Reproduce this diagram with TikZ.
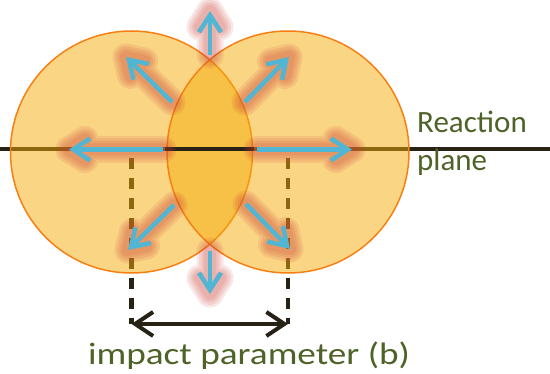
\documentclass[tikz,border=0pt]{standalone}
\usepackage{fontspec}
\setmainfont{Carlito}
\newfontfamily\widefont[FakeStretch=1.2]{Carlito}
\usetikzlibrary{arrows.meta,calc}
\definecolor{nucfill}{RGB}{245,172,10}
\definecolor{nucline}{RGB}{247,128,20}
\definecolor{flowblue}{RGB}{80,182,212}
\definecolor{glowred}{RGB}{200,60,50}
\definecolor{olivetext}{RGB}{79,98,40}
\definecolor{ink}{RGB}{38,34,22}
\newcommand\flowarrow[2]{%
  \foreach \w in {27,22,17,12}{%
    \draw[glowlayer=\w pt] (#1) -- (#2) ($(#2)!19pt!32:(#1)$) -- (#2) -- ($(#2)!19pt!-32:(#1)$);
  }%
  \draw[flow] (#1) -- (#2);
}
\begin{document}
\begin{tikzpicture}[x=1pt,y=-1pt,
  nucleus/.style={circle, minimum size=242pt, inner sep=0pt, outer sep=0pt,
    fill=nucfill, fill opacity=0.5, draw=nucline, draw opacity=1, line width=1.5pt},
  glowlayer/.style={draw=glowred, draw opacity=0.12, line width=#1, line cap=round,
    line join=round},
  flow/.style={draw=flowblue, line width=4.5pt,
    -{Straight Barb[length=17pt,width=22pt]}},
  captext/.style={text=olivetext, inner sep=0pt, font=\fontsize{31}{31}\selectfont},
  planeline/.style={draw=ink, line width=4pt},
  dimdash/.style={draw=ink, line width=4.5pt, dash pattern=on 11pt off 9pt},
  dimarrow/.style={draw=ink, line width=4pt,
    {Straight Barb[length=18pt,width=24pt]}-{Straight Barb[length=18pt,width=24pt]}},
]
\useasboundingbox (0,0) rectangle (550,374);

% coordinates
\coordinate (pl0) at (-5,149.5);
\coordinate (pl1) at (555,149.5);
\coordinate (ls0) at (165,149.5);
\coordinate (ls1) at (254,149.5);
\coordinate (d1) at (131.5,158);
\coordinate (b1) at (131.5,324);
\coordinate (d2) at (288,158);
\coordinate (b2) at (288,324);

% reaction plane line and dashes
\draw[planeline] (pl0) -- (pl1);
\draw[dimdash] (d1) -- (b1);
\draw[dimdash] (d2) -- (b2);

% nuclei
\node[nucleus] (L) at (131.5,152) {};
\node[nucleus] (R) at (288,152) {};

% black segment over the overlap
\draw[planeline] (ls0) -- (ls1);

% flow arrows
\coordinate (uS) at (210,55);   \coordinate (uE) at (210,11);
\coordinate (dS) at (210,251);  \coordinate (dE) at (210,294);
\coordinate (ulS) at (172,102); \coordinate (ulE) at (126,57);
\coordinate (urS) at (245,102); \coordinate (urE) at (289,57);
\coordinate (llS) at (174,205); \coordinate (llE) at (128,250);
\coordinate (lrS) at (246,204); \coordinate (lrE) at (290,249);
\coordinate (lS) at (163,149.5); \coordinate (lE) at (69,149.5);
\coordinate (rS) at (257,149.5); \coordinate (rE) at (352,149.5);

\flowarrow{uS}{uE}
\flowarrow{dS}{dE}
\flowarrow{ulS}{ulE}
\flowarrow{urS}{urE}
\flowarrow{llS}{llE}
\flowarrow{lrS}{lrE}
\flowarrow{lS}{lE}
\flowarrow{rS}{rE}

% impact parameter arrow
\draw[dimarrow] (b1) -- (b2);

% texts
\node[captext, anchor=base west] (rx) at (417,133) {Reaction};
\node[captext, anchor=base west] (pn) at (417,171) {plane};
\node[captext, anchor=base, font=\widefont\fontsize{31}{31}\selectfont] (ip) at (249,365) {impact parameter (b)};
\end{tikzpicture}
\end{document}
